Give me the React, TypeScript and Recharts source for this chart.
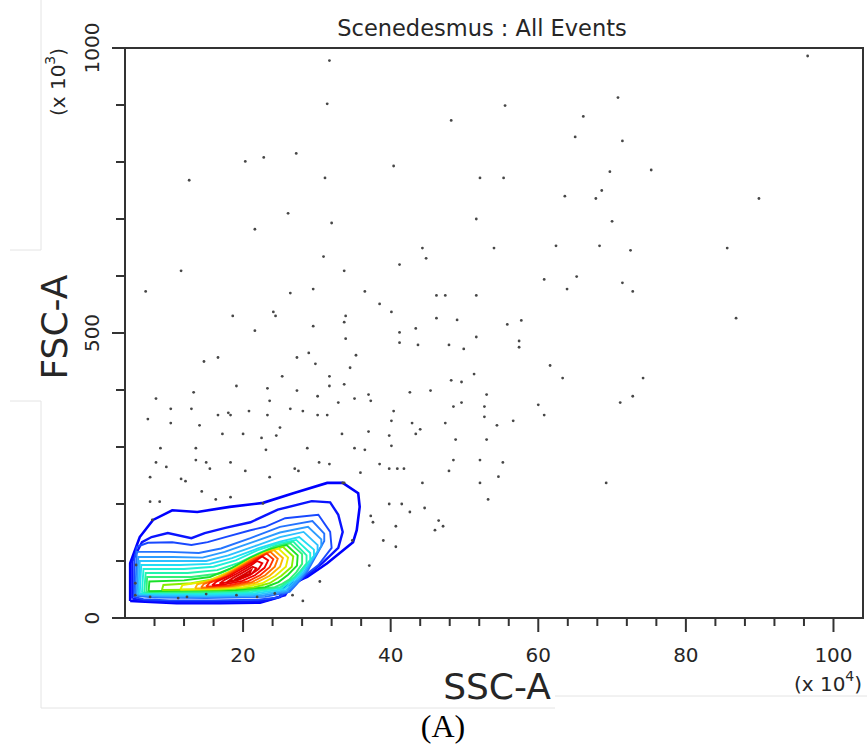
import { ScatterChart, Scatter, XAxis, YAxis, ReferenceArea } from 'recharts'

// axis ticks (SSC-A in x10^4, FSC-A in x10^3)
const xTicks = [8, 12, 16, 20, 24, 28, 32, 36, 40, 44, 48, 52, 56, 60, 64, 68, 72, 76, 80, 84, 88, 92, 96, 100]
const xMajor = [20, 40, 60, 80, 100]
const yTicks = [0, 100, 200, 300, 400, 500, 600, 700, 800, 900, 1000]
const yMajor = [0, 500, 1000]

// density contours, outermost first: [SSC, FSC]
const c0 = [[4.7, 30], [4.7, 96], [6, 142], [7.8, 172], [10.4, 189], [13.8, 186], [18.2, 195], [22.7, 202], [26.8, 219], [31.4, 237], [33.5, 237], [35.6, 219], [35.8, 195], [35.4, 154], [34.9, 133], [31.4, 96], [28.7, 72], [25.4, 54], [25, 37], [22.3, 27], [16.9, 26], [11, 26], [6, 29], [4.7, 30]]
const c1 = [[5, 34], [5, 100], [6.3, 133], [7.6, 142], [9.8, 149], [13, 140], [14.8, 149], [17.6, 158], [21, 168], [24.7, 190], [29.3, 205], [31.8, 203], [32.9, 181], [33.5, 151], [32.9, 123], [30.7, 96], [28.4, 72], [26.4, 55], [25.7, 40], [23, 30], [17, 28], [11, 28], [6.5, 31], [5, 34]]
const c2 = [[5.2, 37], [5.3, 105], [5.6, 125], [7.1, 132], [10.4, 133], [13, 128], [15.2, 133], [17.6, 142], [21, 154], [23, 160], [25.7, 175], [30.2, 181], [31.8, 151], [32, 123], [30.2, 93], [28.4, 75], [27, 58], [26.1, 46], [24.7, 36], [22, 32], [16, 31], [10, 31], [6.5, 33], [5.2, 37]]
const c3 = [[5.4, 39], [5.6, 116], [10, 116], [14, 114], [17, 122], [21, 140], [25, 160], [29.4, 170], [31, 148], [31, 135], [30, 112], [28.8, 84], [27.3, 60], [26.3, 46], [23, 37], [15, 35], [8, 36], [5.4, 39]]
const c4 = [[5.6, 41], [5.8, 107], [10.5, 107], [14.5, 106], [17.5, 116], [21.5, 134], [25, 150], [28.8, 160], [30.6, 138], [30.6, 126], [29.6, 106], [28.5, 82], [27.1, 61], [26, 47], [22.5, 39], [15, 37], [8.5, 38], [5.6, 41]]
const c5 = [[5.8, 42], [6, 100], [11, 100], [15, 100], [18, 110], [22, 128], [25, 142], [28.2, 151], [30.1, 128], [30.1, 117], [29.2, 100], [28.2, 80], [26.9, 63], [25.8, 49], [22, 41], [15, 39], [9, 40], [5.8, 42]]
const c6 = [[6, 43], [6.2, 93], [11.5, 93], [15.5, 95], [18.5, 105], [22, 122], [25, 134], [27.6, 142], [29.6, 120], [29.6, 109], [28.7, 95], [27.8, 78], [26.6, 64], [25.6, 51], [21.5, 43], [15, 41], [9.5, 42], [6, 43]]
const c7 = [[6.3, 44], [6.5, 86], [12, 86], [16, 90], [19, 101], [22, 119], [24.8, 131], [27.2, 137], [29.1, 114], [29.1, 102], [28.3, 89], [27.4, 75], [26.3, 64], [25.3, 53], [21, 45], [15, 43], [10, 44], [6.3, 44]]
const c8 = [[6.6, 45], [6.8, 79], [12.5, 79], [16.5, 84], [19.5, 97], [22, 113], [24.5, 127], [26.8, 134], [28.6, 110], [28.6, 96], [27.8, 83], [27, 72], [25.9, 62], [25, 54], [20.5, 47], [14, 45], [10, 45], [6.6, 45]]
const c9 = [[6.9, 46], [7, 72], [13, 72], [16.8, 78], [19.6, 94], [22.2, 112], [24.3, 125], [26.4, 131], [28, 112], [28, 95], [27.2, 80], [26.3, 68], [25.3, 60], [24.3, 54], [20, 48], [14, 46], [10, 46], [6.9, 46]]
const c10 = [[7.2, 47], [7.3, 64], [12, 66], [15.5, 72], [18.5, 88], [21, 106], [23.5, 120], [25.9, 128], [27.4, 110], [27.3, 92], [26.1, 76], [24.8, 63], [23, 54], [19, 49], [12, 48], [7.2, 47]]
const c11 = [[9, 49], [9.2, 58], [13, 61], [16, 68], [18.6, 84], [21, 102], [23.2, 116], [25.4, 125], [26.8, 108], [26.6, 90], [25.2, 74], [23.6, 61], [21.5, 54], [17, 50], [9, 49]]
const c12 = [[11.5, 50], [11.8, 58], [15, 64], [17.8, 79], [20.4, 98], [22.7, 113], [24.8, 122], [26.1, 106], [25.8, 90], [24.4, 74], [22.6, 61], [20, 54], [16, 51], [11.5, 50]]
const c13 = [[13.5, 52], [13.8, 59], [16.3, 68], [18.8, 85], [21.1, 103], [23.2, 115], [24.2, 119], [25.4, 105], [25, 90], [23.6, 74], [21.8, 62], [19, 55], [16, 52], [13.5, 52]]
const c14 = [[14.3, 53], [14.7, 60], [17, 70], [19.3, 87], [21.5, 104], [23.7, 116], [24.7, 104], [24.3, 90], [23, 75], [21.2, 63], [18.5, 56], [14.3, 53]]
const c15 = [[15, 55], [15.5, 62], [17.6, 72], [19.8, 89], [21.8, 104], [23.2, 113], [24.1, 103], [23.6, 89], [22.3, 75], [20.6, 64], [18, 57], [15, 55]]
const c16 = [[15.8, 57], [16.4, 64], [18.3, 75], [20.3, 90], [22, 103], [22.6, 108], [23.4, 101], [22.9, 88], [21.6, 75], [19.9, 65], [17.5, 59], [15.8, 57]]
const c17 = [[16.8, 60], [17.5, 67], [19.2, 78], [20.9, 91], [21.9, 100], [22.6, 96], [22.1, 86], [20.9, 75], [19.2, 66], [16.8, 60]]
const c18 = [[17.8, 63], [18.6, 70], [20, 80], [21.3, 90], [21.8, 87], [21.2, 78], [19.9, 70], [17.8, 63]]
const c19 = [[18.8, 67], [20.2, 77], [21.1, 84], [20.9, 78], [19.8, 71], [18.8, 67]]

const contours = [c0, c1, c2, c3, c4, c5, c6, c7, c8, c9, c10, c11, c12, c13, c14, c15, c16, c17, c18, c19]

const levelColors = ['#0000ff', '#0a14ff', '#1848ff', '#2474ff', '#2c9cff', '#2cc0ff', '#22dcf4', '#20f0d8', '#22f4ac', '#34f078', '#18e02a', '#86ee00', '#e8ee00', '#ffb400', '#ff7000', '#ff3000', '#f00000', '#e80000', '#e00000', '#d80000']
const levelWidths = [2.6, 2.4, 1.9, 1.9, 1.9, 1.9, 1.9, 1.9, 1.9, 1.9, 1.9, 1.9, 1.9, 1.9, 1.9, 1.9, 1.9, 1.9, 1.9, 1.9]

// individual events outside / over the contours
const events = [
  [31.7, 978], [31.4, 902], [48.2, 873], [20.3, 801], [22.8, 808], [27.2, 815], [40.4, 793], [12.7, 768], [31.1, 772], [52.1, 772],
  [26.1, 710], [21.6, 682], [32.0, 693], [51.6, 700], [44.3, 649], [54.0, 649], [30.9, 634], [44.8, 631], [41.2, 620], [11.6, 609], [33.7, 609],
  [96.5, 986], [70.8, 913], [55.5, 899], [66.1, 880], [65.0, 844], [71.4, 837], [69.7, 783], [75.3, 786], [55.3, 772], [68.6, 750],
  [63.6, 740], [67.8, 736], [89.9, 736], [70.0, 696], [62.4, 653], [68.3, 653], [72.5, 645], [85.6, 649], [65.2, 599], [60.8, 594],
  [6.8, 573], [26.4, 570], [29.5, 577], [36.5, 573], [38.5, 551], [40.1, 537], [46.2, 566], [47.4, 566], [51.6, 566], [18.6, 530],
  [24.1, 537], [24.4, 530], [33.7, 519], [33.9, 530], [29.5, 512], [21.6, 504], [46.2, 526], [49.0, 523], [41.2, 501], [43.4, 508],
  [41.2, 483], [43.7, 479], [47.9, 479], [49.9, 472], [51.6, 493], [33.9, 490], [14.7, 450], [16.6, 457], [27.3, 457], [28.9, 465],
  [29.8, 446], [35.3, 461], [34.5, 439], [25.3, 424], [31.7, 424], [48.2, 417], [49.6, 414], [51.3, 428], [19.1, 407], [23.3, 403],
  [31.7, 407], [33.7, 410], [27.3, 399], [13.3, 396], [8.2, 385], [23.6, 381], [30.1, 389], [35.1, 385], [37.0, 392], [37.3, 381],
  [42.6, 396], [45.4, 399], [53.0, 392], [10.2, 367], [13.0, 367], [18.0, 360], [18.3, 356], [20.8, 363], [26.4, 367], [28.1, 363],
  [30.1, 356], [31.4, 356], [23.3, 356], [16.6, 356], [32.9, 378], [40.4, 363], [48.5, 371], [49.6, 378], [52.7, 371], [7.1, 349],
  [10.2, 342], [14.1, 338], [40.1, 346], [42.9, 342], [47.4, 342], [52.7, 353], [54.4, 338], [25.0, 334], [17.2, 323], [20.0, 323],
  [24.5, 320], [22.5, 316], [33.4, 323], [37.0, 327], [39.8, 320], [43.4, 323], [44.0, 331], [48.8, 313], [53.0, 313], [8.8, 298],
  [13.6, 298], [23.1, 295], [28.7, 298], [35.1, 298], [36.5, 295], [40.1, 302], [8.2, 273], [9.6, 265], [13.6, 277], [15.0, 273],
  [15.5, 262], [18.3, 273], [20.3, 258], [30.3, 273], [31.7, 270], [27.0, 262], [27.5, 258], [38.5, 270], [39.8, 262], [40.9, 262],
  [41.8, 262], [48.5, 277], [47.9, 258], [52.1, 277], [35.9, 255], [23.6, 247], [7.4, 247], [11.6, 244], [12.2, 240], [44.3, 237],
  [52.1, 237], [33.7, 237], [54.6, 248],
  [63.9, 577], [71.4, 588], [72.8, 573], [86.8, 526], [55.8, 515], [57.7, 522], [57.4, 486], [57.4, 475], [61.6, 443], [63.3, 421],
  [74.2, 421], [56.6, 346], [60.0, 374], [60.8, 356], [72.8, 389], [71.1, 378], [55.2, 273], [69.2, 237], [53.2, 208],
  [39.8, 200], [41.5, 200], [44.6, 193], [42.6, 186], [37.3, 179], [37.6, 168], [40.7, 161], [46.5, 171], [47.1, 161], [46.0, 154],
  [39.0, 136], [40.7, 125], [37.1, 92], [34.8, 136],
  [14.4, 222], [7.4, 204], [8.7, 204], [16.3, 208], [18.3, 212], [22.7, 201], [7.7, 172], [5.5, 93], [5.4, 61], [5.4, 40],
  [7.4, 37], [11.2, 35], [12.4, 37], [15.0, 42], [19.1, 40], [21.9, 37], [30.4, 64], [26.7, 40], [28.1, 30], [24.3, 43], [33.5, 237],
]

const toPts = (arr: number[][]) => arr.map(([x, y]) => ({ x, y }))

const FONT = '"DejaVu Sans", sans-serif'
const INK = '#262626'

const XTick = (props: any) => {
  const { x, y, payload } = props
  const major = xMajor.includes(payload.value)
  return (
    <g>
      <line x1={x} y1={y} x2={x} y2={y + (major ? 14 : 8)} stroke="#333" strokeWidth={2} />
      {major && (
        <text x={x} y={y + 44} textAnchor="middle" fontSize={20} fontFamily={FONT} fill={INK}>
          {payload.value}
        </text>
      )}
    </g>
  )
}

const YTick = (props: any) => {
  const { x, y, payload } = props
  const major = yMajor.includes(payload.value)
  const lx = x - 33
  return (
    <g>
      <line x1={x} y1={y} x2={x - (major ? 13 : 9)} y2={y} stroke="#333" strokeWidth={2} />
      {major && (
        <text
          x={lx}
          y={y}
          transform={`rotate(-90 ${lx} ${y})`}
          textAnchor="middle"
          dominantBaseline="central"
          fontSize={20}
          fontFamily={FONT}
          fill={INK}
        >
          {payload.value}
        </text>
      )}
    </g>
  )
}

const EventDot = (props: any) => <circle cx={props.cx} cy={props.cy} r={1.4} fill="#474747" />
const NoDot = () => <g />

export default function App() {
  return (
    <div style={{ position: 'absolute', left: 0, top: 0, width: 867, height: 753, background: '#fff' }}>
      <ScatterChart width={867} height={753} margin={{ top: 48, right: 4, bottom: 95, left: 65 }}>
        <XAxis
          type="number"
          dataKey="x"
          domain={[4, 104]}
          ticks={xTicks}
          interval={0}
          allowDataOverflow
          height={40}
          tickSize={0}
          tickMargin={0}
          tick={<XTick />}
          axisLine={{ stroke: '#333', strokeWidth: 2 }}
        />
        <YAxis
          type="number"
          dataKey="y"
          domain={[0, 1000]}
          ticks={yTicks}
          interval={0}
          allowDataOverflow
          width={60}
          tickSize={0}
          tickMargin={0}
          tick={<YTick />}
          axisLine={{ stroke: '#333', strokeWidth: 2 }}
        />
        <ReferenceArea x1={4} x2={104} y1={0} y2={1000} fill="none" fillOpacity={0} stroke="#333" strokeWidth={2} />
        {contours.map((c, i) => (
          <Scatter
            key={i}
            data={toPts(c)}
            fill={levelColors[i]}
            line={{ stroke: levelColors[i], strokeWidth: levelWidths[i] }}
            shape={NoDot}
            isAnimationActive={false}
          />
        ))}
        <Scatter data={toPts(events)} fill="#474747" shape={EventDot} isAnimationActive={false} />
      </ScatterChart>
      <svg width={867} height={753} style={{ position: 'absolute', left: 0, top: 0, pointerEvents: 'none' }}>
        <path d="M41 0 V250 H10 M10 401 H41 V708 H555 M555 696 H867" fill="none" stroke="#e4e4e4" strokeWidth={1} />
        <text x={482} y={28} textAnchor="middle" dominantBaseline="central" fontSize={22.5} fontFamily={FONT} fill={INK}>
          Scenedesmus : All Events
        </text>
        <text x={497} y={686} textAnchor="middle" dominantBaseline="central" fontSize={36} fontFamily={FONT} fill={INK}>
          SSC-A
        </text>
        <text
          x={54}
          y={327}
          transform="rotate(-90 54 327)"
          textAnchor="middle"
          dominantBaseline="central"
          fontSize={36}
          fontFamily={FONT}
          fill={INK}
        >
          FSC-A
        </text>
        <text x={828} y={684} textAnchor="middle" dominantBaseline="central" fontSize={20} fontFamily={FONT} fill={INK}>
          (x 10<tspan fontSize={14} dy={-8}>4</tspan><tspan dy={8}>)</tspan>
        </text>
        <text
          x={58}
          y={82}
          transform="rotate(-90 58 82)"
          textAnchor="middle"
          dominantBaseline="central"
          fontSize={20}
          fontFamily={FONT}
          fill={INK}
        >
          (x 10<tspan fontSize={14} dy={-8}>3</tspan><tspan dy={8}>)</tspan>
        </text>
        <text x={443} y={726} textAnchor="middle" dominantBaseline="central" fontSize={32} fontFamily='"Liberation Serif", serif' fill="#000">
          (A)
        </text>
      </svg>
    </div>
  )
}
